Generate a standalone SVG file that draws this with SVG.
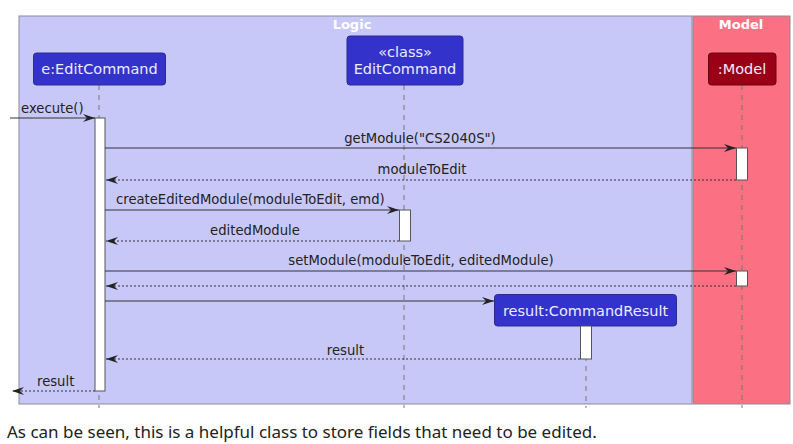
<svg xmlns="http://www.w3.org/2000/svg" width="793" height="444" viewBox="0 0 793 444">
<style>
.box{stroke:#8a8a9a;stroke-width:1}
.grp{font-family:"DejaVu Sans",sans-serif;font-size:13px;font-weight:bold;fill:#ffffff;text-anchor:middle}
.part{fill:#3333CC;stroke:#2a2a90;stroke-width:1}
.ptxt{font-family:"DejaVu Sans",sans-serif;font-size:14.5px;fill:#ececff;text-anchor:middle}
.life{stroke:#777;stroke-width:1;stroke-dasharray:5,5;fill:none}
.act{fill:#ffffff;stroke:#555;stroke-width:1}
.msg{stroke:#333;stroke-width:1;fill:none;marker-end:url(#ah)}
.ret{stroke:#333;stroke-width:1;fill:none;stroke-dasharray:2,2;marker-end:url(#ah)}
.lbl{font-family:"DejaVu Sans",sans-serif;font-size:13.2px;fill:#222}
.mid{text-anchor:middle}
.body{font-family:"Noto Sans","Open Sans",sans-serif;font-size:17px;fill:#222}
</style>
<defs>
<marker id="ah" viewBox="0 0 12 8" refX="12" refY="4" markerWidth="12" markerHeight="8" markerUnits="userSpaceOnUse" orient="auto">
<path d="M0,0 L12,4 L0,8 L4,4 Z" fill="#222"/>
</marker>
</defs>
<rect width="793" height="444" fill="#ffffff"/>
<g id="logic">
<rect class="box" x="19" y="16" width="673" height="388" fill="#C8C8F8"/>
<text class="grp" x="352" y="29">Logic</text>
</g>
<g id="model">
<rect class="box" x="693" y="16" width="97" height="388" fill="#FB7183"/>
<text class="grp" x="741" y="29">Model</text>
</g>
<g id="lifelines">
<line class="life" x1="99" y1="85" x2="99" y2="408"/>
<line class="life" x1="404" y1="85" x2="404" y2="408"/>
<line class="life" x1="742" y1="85" x2="742" y2="408"/>
<line class="life" x1="586" y1="326" x2="586" y2="408"/>
</g>
<g id="editCommand">
<rect class="part" x="33.5" y="53" width="132" height="32" rx="3"/>
<text class="ptxt" x="99.5" y="74">e:EditCommand</text>
<rect class="act" x="95" y="118" width="10" height="273"/>
</g>
<g id="editCommandClass">
<rect class="part" x="347" y="36" width="116" height="49" rx="3"/>
<text class="ptxt" x="405" y="57">«class»</text>
<text class="ptxt" x="405" y="74">EditCommand</text>
<rect class="act" x="399.5" y="210" width="11" height="31"/>
</g>
<g id="modelPart">
<rect class="part" x="708.5" y="53" width="67.5" height="32" rx="3" style="fill:#9A0015;stroke:#6a0010"/>
<text class="ptxt" x="742" y="74">:Model</text>
<rect class="act" x="736.5" y="148" width="11" height="32"/>
<rect class="act" x="736.5" y="271" width="11" height="15"/>
</g>
<g id="commandResult">
<rect class="part" x="494.5" y="294.5" width="182" height="31.5" rx="3"/>
<text class="ptxt" x="585.5" y="316">result:CommandResult</text>
<rect class="act" x="580.5" y="326" width="11" height="33"/>
</g>
<g id="connectors">
<path class="msg" d="M10,118 H95"/>
<text class="lbl" x="21" y="113">execute()</text>
<path class="msg" d="M105,148 H736"/>
<text class="lbl mid" x="420" y="143">getModule("CS2040S")</text>
<path class="ret" d="M736,180 H106"/>
<text class="lbl mid" x="422" y="174">moduleToEdit</text>
<path class="msg" d="M105,210 H399"/>
<text class="lbl" x="116" y="204">createEditedModule(moduleToEdit, emd)</text>
<path class="ret" d="M399,241 H106"/>
<text class="lbl mid" x="255" y="235">editedModule</text>
<path class="msg" d="M105,271 H736"/>
<text class="lbl mid" x="421" y="265">setModule(moduleToEdit, editedModule)</text>
<path class="ret" d="M736,286 H106"/>
<path class="msg" d="M105,301 H494"/>
<path class="ret" d="M580,359 H106"/>
<text class="lbl mid" x="345.5" y="355">result</text>
<path class="ret" d="M95,391 H12"/>
<text class="lbl" x="37" y="386">result</text>
</g>
<text class="body" x="7" y="438">As can be seen, this is a helpful class to store fields that need to be edited.</text>
</svg>
